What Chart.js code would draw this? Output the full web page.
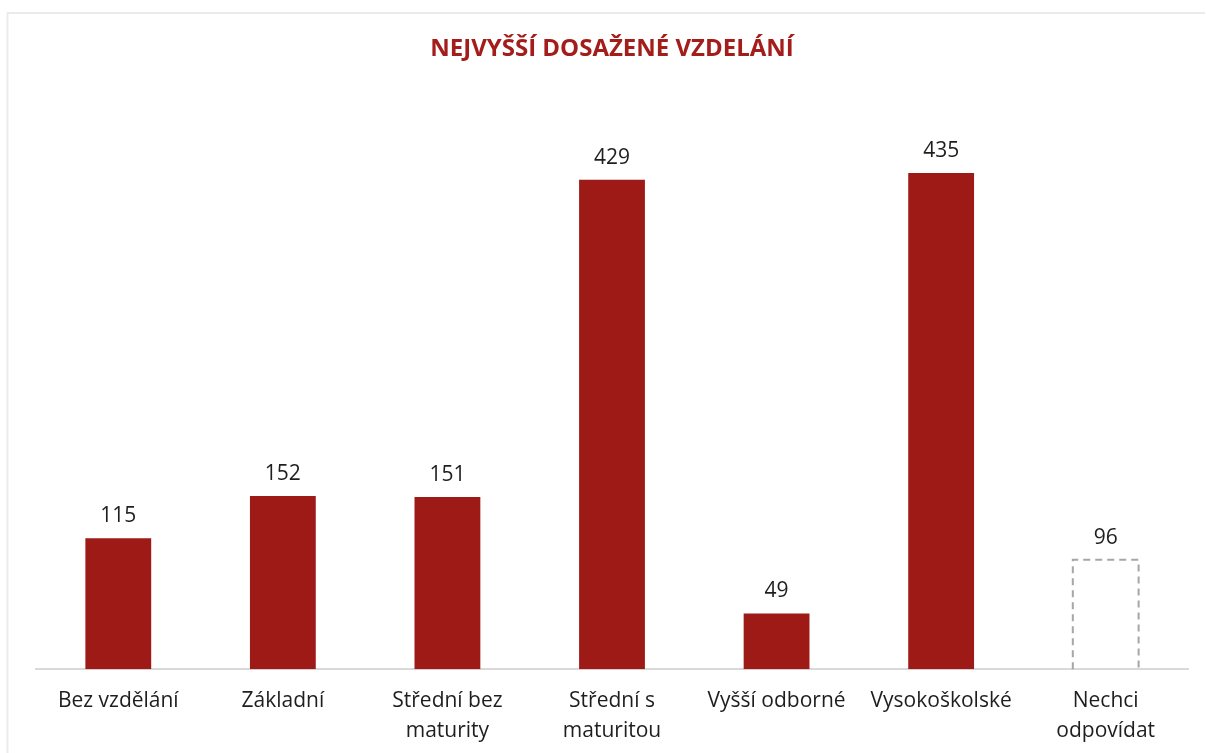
<!DOCTYPE html>
<html><head><meta charset="utf-8">
<script src="https://cdn.jsdelivr.net/npm/chart.js@4.4.1/dist/chart.umd.min.js"></script>
<style>html,body{margin:0;padding:0;background:#fff;}#wrap{width:1206px;height:753px;position:relative;}</style>
</head><body><div id="wrap"><canvas id="c" width="1206" height="753"></canvas></div>
<script>
const categories = [["Bez vzdělání"], ["Základní"], ["Střední bez", "maturity"], ["Střední s", "maturitou"], ["Vyšší odborné"], ["Vysokoškolské"], ["Nechci", "odpovídat"]];
const values = [115, 152, 151, 429, 49, 435, 96];
const dashedFlags = [false, false, false, false, false, false, true];
const titleText = "NEJVYŠŠÍ DOSAŽENÉ VZDELÁNÍ";

const barColor = '#9e1a17';

const framePlugin = {
  id: 'frame',
  beforeDraw(chart) {
    const ctx = chart.ctx;
    ctx.save();
    ctx.fillStyle = '#fff';
    ctx.fillRect(0, 0, chart.width, chart.height);
    ctx.strokeStyle = '#ebebeb';
    ctx.lineWidth = 2;
    ctx.beginPath();
    ctx.moveTo(7.5, 760);
    ctx.lineTo(7.5, 13);
    ctx.lineTo(1205, 13);
    ctx.stroke();
    ctx.restore();
  }
};

const labelPlugin = {
  id: 'valueLabels',
  afterDatasetsDraw(chart) {
    const ctx = chart.ctx;
    const meta = chart.getDatasetMeta(0);
    ctx.save();
    meta.data.forEach((bar, i) => {
      if (dashedFlags[i]) {
        const l = bar.x - bar.width / 2, r = bar.x + bar.width / 2;
        ctx.strokeStyle = '#a6a6a6';
        ctx.lineWidth = 2;
        ctx.setLineDash([7, 5]);
        ctx.beginPath();
        ctx.moveTo(l, bar.base);
        ctx.lineTo(l, bar.y);
        ctx.lineTo(r, bar.y);
        ctx.lineTo(r, bar.base);
        ctx.stroke();
        ctx.setLineDash([]);
      }
      ctx.fillStyle = '#1e1e1e';
      ctx.font = '21px "Open Sans"';
      ctx.textAlign = 'center';
      ctx.textBaseline = 'middle';
      ctx.fillText(String(values[i]), bar.x, bar.y - 22);
    });
    ctx.restore();
  }
};

new Chart(document.getElementById('c'), {
  type: 'bar',
  data: {
    labels: categories,
    datasets: [{
      data: values,
      backgroundColor: values.map((v, i) => dashedFlags[i] ? 'rgba(0,0,0,0)' : barColor),
      borderWidth: 0,
      categoryPercentage: 1,
      barPercentage: 0.4
    }]
  },
  options: {
    responsive: false,
    animation: false,
    devicePixelRatio: 1,
    layout: { padding: { left: 36, right: 18, top: 0, bottom: -10 } },
    plugins: {
      legend: { display: false },
      tooltip: { enabled: false },
      title: {
        display: true,
        text: titleText,
        color: '#a31d1b',
        font: { family: '"Open Sans"', size: 24, weight: 'bold' },
        padding: { top: 35, bottom: 35 }
      }
    },
    scales: {
      x: {
        grid: { display: false, drawTicks: false },
        border: { display: true, color: '#d9d9d9', width: 2 },
        ticks: { color: '#1e1e1e', font: { family: '"Open Sans"', size: 21, lineHeight: 1.42 }, padding: 17, maxRotation: 0, autoSkip: false }
      },
      y: {
        display: false,
        min: 0,
        max: 500
      }
    }
  },
  plugins: [framePlugin, labelPlugin]
});
</script>
</body></html>
